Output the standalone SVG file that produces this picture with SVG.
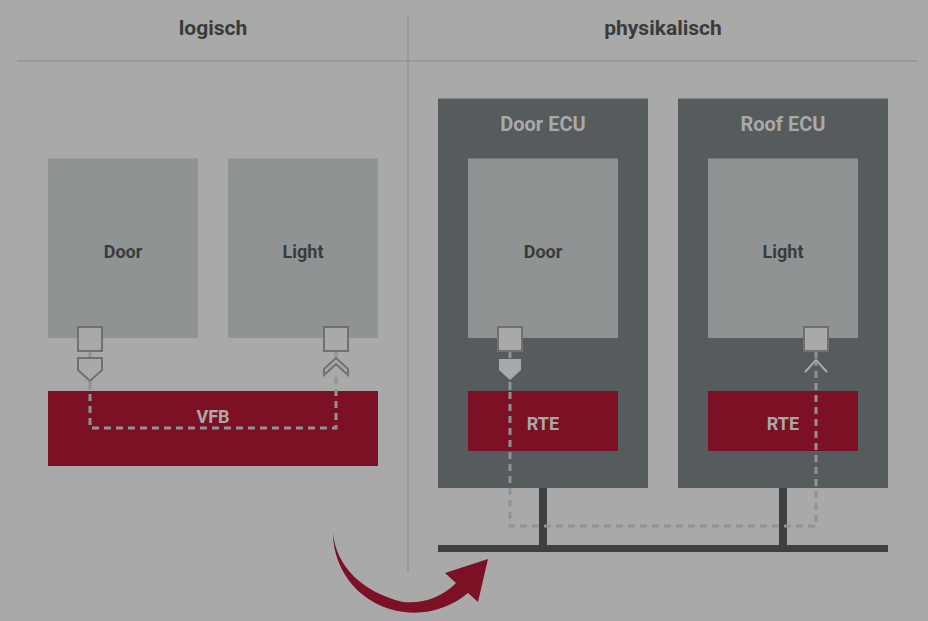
<svg xmlns="http://www.w3.org/2000/svg" width="928" height="621" viewBox="0 0 928 621">
<style>
text{font-family:Roboto,"Liberation Sans",sans-serif;font-weight:700;text-anchor:middle}
.h{font-size:21px;fill:#3a3c3c}
.n{font-size:18px;fill:#3a3c3c}
.l{font-size:18px;fill:#a9a9a9}
.t{font-size:20px;fill:#a9a9a9}
.box{fill:#8f9393}
.ecu{fill:#565b5d}
.red{fill:#7c1126}
.bus{fill:#3c4040}
.rule{stroke:#999;stroke-width:2;fill:none}
.port{fill:#a9a9a9;stroke:#6f7171;stroke-width:2}
.stub{stroke:#8f9393;stroke-width:3;fill:none}
.dash{stroke:#8f9395;stroke-width:3;fill:none;stroke-dasharray:7 5}
.out{fill:none;stroke:#6f7171;stroke-width:2}
</style>
<rect width="928" height="621" fill="#a9a9a9"/>
<g id="dividers">
<path class="rule" d="M17 61H918M408 15V572"/>
</g>
<g id="title-logisch"><text class="h" x="213" y="35">logisch</text></g>
<g id="title-physikalisch"><text class="h" x="663" y="35">physikalisch</text></g>
<g id="door-logical"><rect class="box" x="48" y="158.500" width="150" height="179.500"/><text class="n" x="123" y="258">Door</text></g>
<g id="light-logical"><rect class="box" x="228" y="158.500" width="150" height="179.500"/><text class="n" x="303" y="258">Light</text></g>
<g id="vfb"><rect class="red" x="48" y="391" width="330" height="75"/><text class="l" x="213" y="423">VFB</text></g>
<g id="door-ecu"><rect class="ecu" x="438" y="98.500" width="210" height="389.500"/><text class="t" x="543" y="131">Door ECU</text></g>
<g id="roof-ecu"><rect class="ecu" x="678" y="98.500" width="210" height="389.500"/><text class="t" x="783" y="131">Roof ECU</text></g>
<g id="door-physical"><rect class="box" x="468" y="158.500" width="150" height="179.500"/><text class="n" x="543" y="258">Door</text></g>
<g id="light-physical"><rect class="box" x="708" y="158.500" width="150" height="179.500"/><text class="n" x="783" y="258">Light</text></g>
<g id="rte-door"><rect class="red" x="468" y="391" width="150" height="60"/><text class="l" x="543" y="430">RTE</text></g>
<g id="rte-roof"><rect class="red" x="708" y="391" width="150" height="60"/><text class="l" x="783" y="430">RTE</text></g>
<g id="bus"><path class="bus" d="M438 545H539V488H547V545H779V488H787V545H888V552H438Z"/></g>
<g id="connectors">
<path class="stub" d="M90 351V358M90 382V390M336 351V358M510 351V358M510 382V390M816 351V358"/>
<path class="dash" d="M90 394V428H336V375"/>
<path class="dash" d="M510 392V526H816V362"/>
</g>
<g id="port-door-logical"><rect class="port" x="78" y="327" width="24" height="24"/><path class="out" d="M78 358H102V370L90 381L78 370Z"/></g>
<g id="port-light-logical"><rect class="port" x="324" y="327" width="24" height="24"/><path class="out" d="M324 375V369L336 358L348 369V375L336 364Z"/></g>
<g id="port-door-physical"><rect class="port" x="498" y="327" width="24" height="24"/><path fill="#a9a9a9" d="M499 359H521V370L510 380L499 370Z"/></g>
<g id="port-light-physical"><rect class="port" x="804" y="327" width="24" height="24"/><path fill="none" stroke="#a9a9a9" stroke-width="2" d="M805 372L816 360L827 372"/></g>
<g id="arrow"><path class="red" d="M333 533C336 566 362 592 403 602C424 604 442 597 456 583L445 573L488 559L478 602L468 593C450 608 427 615 404 612C362 607 333 572 333 533Z"/></g>
</svg>
